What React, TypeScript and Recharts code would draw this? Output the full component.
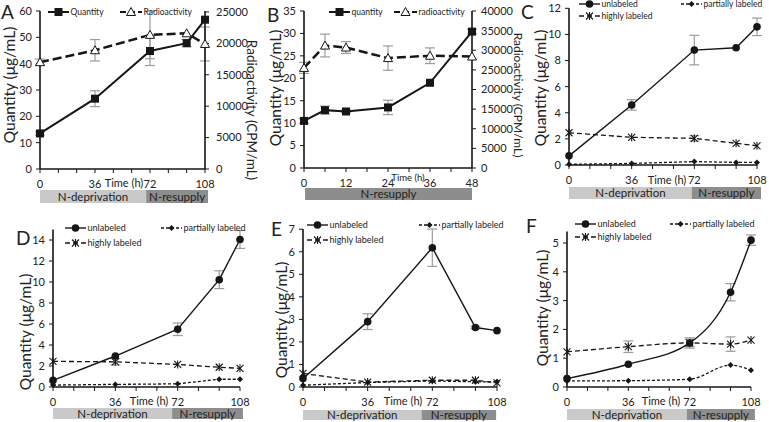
import React from 'react';
import { LineChart, Line, XAxis, YAxis, ErrorBar, ReferenceArea } from 'recharts';

const FONT = 'Lato, "Open Sans", sans-serif';
const INK = '#161616';
const TXT = '#222';
const ERR = '#9c9c9c';
const LIGHT = '#c9c9c9';
const DARK = '#8d8d8d';

// time axes (h)
const HOURS = [0, 36, 72, 96, 108];
const HOURS_B = [0, 6, 12, 24, 36, 48];
const TICKS_108 = [0, 12, 24, 36, 48, 60, 72, 84, 96, 108];
const LABELS_108 = [0, 36, 72, 108];
const TICKS_48 = [0, 6, 12, 18, 24, 30, 36, 42, 48];
const LABELS_48 = [0, 12, 24, 36, 48];

// A - quantity (ug/mL) and radioactivity (CPM/mL)
const A_QTY = [13.5, 26.7, 44.8, 47.8, 56.7];
const A_QTY_ERR = [0.6, 3.0, 5.5, 1.4, 0];
const A_RAD = [17000, 18900, 21350, 21600, 19900];
const A_RAD_ERR = [500, 1700, 3800, 0, 2700];

// B - N-resupply only
const B_QTY = [10.5, 12.9, 12.6, 13.5, 19.0, 30.4];
const B_QTY_ERR = [0.5, 0.9, 0.3, 1.6, 0, 0.5];
const B_RAD = [25500, 31200, 30700, 28000, 28600, 28400];
const B_RAD_ERR = [1400, 2900, 1500, 3100, 2000, 0];

// C
const C_UNL = [0.7, 4.6, 8.8, 8.98, 10.58];
const C_UNL_ERR = [0, 0.4, 1.13, 0, 0.67];
const C_PART = [0.05, 0.12, 0.26, 0.2, 0.2];
const C_HIGH = [2.47, 2.12, 2.04, 1.66, 1.47];
const C_HIGH_ERR = [0, 0, 0.2, 0, 0];

// D
const D_UNL = [0.63, 2.95, 5.5, 10.22, 14.05];
const D_UNL_ERR = [0, 0, 0.6, 0.85, 0.85];
const D_PART = [0.18, 0.25, 0.3, 0.74, 0.74];
const D_HIGH = [2.44, 2.4, 2.15, 1.88, 1.78];
const D_HIGH_ERR = [0, 0.3, 0, 0, 0];

// E
const E_UNL = [0.38, 2.9, 6.18, 2.64, 2.5];
const E_UNL_ERR = [0, 0.35, 0.83, 0.06, 0];
const E_PART = [0.08, 0.2, 0.27, 0.23, 0.23];
const E_HIGH = [0.6, 0.22, 0.3, 0.3, 0.18];

// F
const F_UNL = [0.29, 0.79, 1.53, 3.29, 5.1];
const F_UNL_ERR = [0, 0, 0.13, 0.3, 0.18];
const F_PART = [0.21, 0.22, 0.27, 0.76, 0.58];
const F_HIGH = [1.22, 1.4, 1.53, 1.49, 1.63];
const F_HIGH_ERR = [0, 0.2, 0.18, 0.25, 0];

const range = (a: number, b: number, s: number) => {
  const out: number[] = [];
  for (let v = a; v <= b + 1e-9; v += s) out.push(v);
  return out;
};

const toRows = (times: number[], cols: Record<string, number[]>) =>
  times.map((t, i) => {
    const r: any = { t };
    Object.keys(cols).forEach(k => { r[k] = cols[k][i]; });
    return r;
  });

type Marker = 'square' | 'triangle' | 'circle' | 'diamond' | 'star';

const drawMarker = (m: Marker, cx: number, cy: number, key?: string) => {
  if (m === 'square') return <rect key={key} x={cx - 4} y={cy - 4} width={8} height={8} fill={INK} />;
  if (m === 'triangle')
    return <path key={key} d={`M${cx},${cy - 4.5}L${cx + 4.5},${cy + 3.5}L${cx - 4.5},${cy + 3.5}Z`} fill="#fff" stroke={INK} strokeWidth={1} />;
  if (m === 'circle') return <circle key={key} cx={cx} cy={cy} r={3.8} fill={INK} />;
  if (m === 'diamond') return <path key={key} d={`M${cx},${cy - 3}L${cx + 3},${cy}L${cx},${cy + 3}L${cx - 3},${cy}Z`} fill={INK} />;
  return (
    <g key={key} stroke={INK} strokeWidth={1.1}>
      <line x1={cx - 3.5} y1={cy - 3.5} x2={cx + 3.5} y2={cy + 3.5} />
      <line x1={cx - 3.5} y1={cy + 3.5} x2={cx + 3.5} y2={cy - 3.5} />
      <line x1={cx} y1={cy - 4} x2={cx} y2={cy + 4} />
    </g>
  );
};

interface Series {
  key: string;
  err?: string;
  axis?: string;
  dash?: string;
  width: number;
  marker: Marker;
  curve: 'linear' | 'monotone';
}

interface Phase { x1: number; x2: number; label: string; fill: string }

interface PanelProps {
  box: [number, number, number, number]; // container left, top, width, height
  plot: [number, number, number, number]; // plot x0, x1, y0, y1 (page)
  data: any[];
  xMax: number;
  xTicks: number[];
  xLabels: number[];
  yMax: number;
  yTicks: number[];
  rMax?: number;
  rTicks?: number[];
  series: Series[];
  phases: Phase[];
  phaseOff: [number, number];
  time: [number, number, number]; // page centre x, y, font size
  qLabel: [number, number]; // page centre
  rLabel?: [number, number, number];
  rTickMargin?: number;
}

const Panel = (p: PanelProps) => {
  const [left, top, width, height] = p.box;
  const [x0, x1, y0, y1] = p.plot;
  const hasRight = p.rMax != null;
  const xAxisH = 30;
  const yW = x0 - left;
  const rW = hasRight ? left + width - x1 : 0;
  const margin = { top: y0 - top, right: hasRight ? 0 : left + width - x1, bottom: top + height - y1 - xAxisH, left: 0 };
  const perPx = p.yMax / (y1 - y0);
  const tick = { fill: TXT, fontSize: 11, fontFamily: FONT };
  const axisLine = { stroke: INK, strokeWidth: 1.6 };

  const rotated = (text: string, cx: number, cy: number, angle: number, size: number) => () => (
    <text
      x={cx - left}
      y={cy - top}
      transform={`rotate(${angle}, ${cx - left}, ${cy - top})`}
      textAnchor="middle"
      dominantBaseline="central"
      fontSize={size}
      fontFamily={FONT}
      fill={TXT}
    >
      {text}
    </text>
  );

  return (
    <div style={{ position: 'absolute', left, top }}>
      <LineChart width={width} height={height} data={p.data} margin={margin}>
        <XAxis
          dataKey="t"
          type="number"
          domain={[0, p.xMax]}
          ticks={p.xTicks}
          interval={0}
          tickFormatter={(v: number) => (p.xLabels.includes(v) ? String(v) : '')}
          height={xAxisH}
          tick={tick}
          tickSize={4}
          tickMargin={7}
          axisLine={axisLine}
          tickLine={{ stroke: INK }}
          label={rotated('Time (h)', p.time[0], p.time[1], 0, p.time[2])}
        />
        <YAxis
          yAxisId="left"
          width={yW}
          domain={[0, p.yMax]}
          ticks={p.yTicks}
          interval={0}
          tick={tick}
          tickSize={4}
          tickMargin={4}
          axisLine={axisLine}
          tickLine={{ stroke: INK }}
          label={rotated('Quantity (μg/mL)', p.qLabel[0], p.qLabel[1], -90, 15.5)}
        />
        {hasRight && (
          <YAxis
            yAxisId="right"
            orientation="right"
            width={rW}
            domain={[0, p.rMax as number]}
            ticks={p.rTicks}
            interval={0}
            tick={tick}
            tickSize={4}
            tickMargin={p.rTickMargin ?? 7}
            axisLine={axisLine}
            tickLine={{ stroke: INK }}
            label={rotated('Radioactivity (CPM/mL)', p.rLabel![0], p.rLabel![1], 90, p.rLabel![2])}
          />
        )}
        {p.phases.map(ph => (
          <ReferenceArea
            key={ph.label}
            yAxisId="left"
            x1={ph.x1}
            x2={ph.x2}
            y1={-p.phaseOff[0] * perPx}
            y2={-p.phaseOff[1] * perPx}
            fill={ph.fill}
            fillOpacity={1}
            stroke="none"
            ifOverflow="visible"
            label={{ value: ph.label, position: 'center', fill: TXT, fontSize: 11.5, fontFamily: FONT }}
          />
        ))}
        {p.series.map(s => (
          <Line
            key={s.key}
            yAxisId={s.axis ?? 'left'}
            dataKey={s.key}
            type={s.curve}
            stroke={INK}
            strokeWidth={s.width}
            strokeDasharray={s.dash}
            isAnimationActive={false}
            activeDot={false}
            dot={(d: any) => drawMarker(s.marker, d.cx, d.cy, `dot-${s.key}-${d.index}`)}
          >
            {s.err && <ErrorBar dataKey={s.err} width={5} stroke={ERR} strokeWidth={1.2} direction="y" isAnimationActive={false} />}
          </Line>
        ))}
      </LineChart>
    </div>
  );
};

const LegendItem = ({ x1, x2, y, dash, w, marker, text, size }: { x1: number; x2: number; y: number; dash?: string; w: number; marker: Marker; text: string; size: number }) => (
  <g>
    <line x1={x1} y1={y} x2={x2} y2={y} stroke={INK} strokeWidth={w} strokeDasharray={dash} />
    {drawMarker(marker, (x1 + x2) / 2, y)}
    <text x={x2 + 1.5} y={y + size * 0.35} fontSize={size} fontFamily={FONT} fill={TXT}>{text}</text>
  </g>
);

const Labeled = ({ y, ux, px, hy, size }: { y: number; ux: number; px: number; hy: number; size: number }) => (
  <g>
    <LegendItem x1={ux} x2={ux + 21} y={y} w={1.4} marker="circle" text="unlabeled" size={size} />
    <LegendItem x1={px} x2={px + 21} y={y} w={1.3} dash="3 2" marker="diamond" text="partially labeled" size={size} />
    <LegendItem x1={ux} x2={ux + 21} y={hy} w={1.3} dash="5 3" marker="star" text="highly labeled" size={size} />
  </g>
);

const fullSeries = (curve: 'linear' | 'monotone', unlErr: boolean, highErr: boolean): Series[] => [
  { key: 'part', width: 1.3, dash: '3 2', marker: 'diamond', curve },
  { key: 'high', err: highErr ? 'highErr' : undefined, width: 1.3, dash: '5 3', marker: 'star', curve },
  { key: 'unl', err: unlErr ? 'unlErr' : undefined, width: 1.4, marker: 'circle', curve },
];

export default function App() {
  const dataA = toRows(HOURS, { q: A_QTY, qErr: A_QTY_ERR, r: A_RAD, rErr: A_RAD_ERR });
  const dataB = toRows(HOURS_B, { q: B_QTY, qErr: B_QTY_ERR, r: B_RAD, rErr: B_RAD_ERR });
  const dataC = toRows(HOURS, { unl: C_UNL, unlErr: C_UNL_ERR, part: C_PART, high: C_HIGH, highErr: C_HIGH_ERR });
  const dataD = toRows(HOURS, { unl: D_UNL, unlErr: D_UNL_ERR, part: D_PART, high: D_HIGH, highErr: D_HIGH_ERR });
  const dataE = toRows(HOURS, { unl: E_UNL, unlErr: E_UNL_ERR, part: E_PART, high: E_HIGH });
  const dataF = toRows(HOURS, { unl: F_UNL, unlErr: F_UNL_ERR, part: F_PART, high: F_HIGH, highErr: F_HIGH_ERR });

  const qrSeries: Series[] = [
    { key: 'r', err: 'rErr', axis: 'right', width: 2.5, dash: '9 4', marker: 'triangle', curve: 'linear' },
    { key: 'q', err: 'qErr', width: 2, marker: 'square', curve: 'linear' },
  ];

  return (
    <div style={{ position: 'absolute', left: 0, top: 0, width: 769, height: 422, overflow: 'hidden', background: '#fff', fontFamily: FONT }}>
      <Panel
        box={[0, 0, 262, 210]} plot={[40, 205, 11, 169]} data={dataA}
        xMax={108} xTicks={TICKS_108} xLabels={LABELS_108}
        yMax={60} yTicks={range(0, 60, 10)} rMax={25000} rTicks={range(0, 25000, 5000)}
        series={qrSeries}
        phases={[{ x1: 0, x2: 69.5, label: 'N-deprivation', fill: LIGHT }, { x1: 69.5, x2: 110, label: 'N-resupply', fill: DARK }]}
        phaseOff={[21, 34]} time={[124, 182, 11]} qLabel={[9, 85]} rLabel={[252, 110, 13.5]}
      />
      <Panel
        box={[262, 0, 265, 210]} plot={[304, 472, 11, 168]} data={dataB}
        xMax={48} xTicks={TICKS_48} xLabels={LABELS_48}
        yMax={35} yTicks={range(0, 35, 5)} rMax={40000} rTicks={range(0, 40000, 5000)}
        series={qrSeries}
        phases={[{ x1: 0.3, x2: 48, label: 'N-resupply', fill: DARK }]}
        phaseOff={[20, 32]} time={[408, 177, 9.5]} qLabel={[275, 88]} rLabel={[518, 95, 12]} rTickMargin={5}
      />
      <Panel
        box={[515, 0, 254, 210]} plot={[569, 757, 8.3, 165]} data={dataC}
        xMax={108} xTicks={TICKS_108} xLabels={LABELS_108}
        yMax={12} yTicks={range(0, 12, 2)}
        series={fullSeries('linear', true, true)}
        phases={[{ x1: 0, x2: 70.5, label: 'N-deprivation', fill: LIGHT }, { x1: 70.5, x2: 110.3, label: 'N-resupply', fill: DARK }]}
        phaseOff={[22, 34]} time={[667, 179, 11]} qLabel={[540, 88]}
      />
      <Panel
        box={[0, 210, 255, 212]} plot={[53, 240, 229.5, 387]} data={dataD}
        xMax={108} xTicks={TICKS_108} xLabels={LABELS_108}
        yMax={15} yTicks={range(0, 14, 2)}
        series={fullSeries('linear', true, true)}
        phases={[{ x1: 0, x2: 68.8, label: 'N-deprivation', fill: LIGHT }, { x1: 68.8, x2: 109.7, label: 'N-resupply', fill: DARK }]}
        phaseOff={[21, 32]} time={[149, 400, 11]} qLabel={[25, 332]}
      />
      <Panel
        box={[255, 210, 255, 212]} plot={[303, 497, 229, 387]} data={dataE}
        xMax={108} xTicks={TICKS_108} xLabels={LABELS_108}
        yMax={7} yTicks={range(0, 7, 1)}
        series={fullSeries('linear', true, false)}
        phases={[{ x1: 0, x2: 66, label: 'N-deprivation', fill: LIGHT }, { x1: 66, x2: 107.5, label: 'N-resupply', fill: DARK }]}
        phaseOff={[23, 33]} time={[403, 400, 11]} qLabel={[281, 320]}
      />
      <Panel
        box={[510, 210, 259, 212]} plot={[567, 751, 231.5, 387]} data={dataF}
        xMax={108} xTicks={TICKS_108} xLabels={LABELS_108}
        yMax={5.4} yTicks={range(0, 5, 1)}
        series={fullSeries('monotone', true, true)}
        phases={[{ x1: 0, x2: 70.3, label: 'N-deprivation', fill: LIGHT }, { x1: 70.3, x2: 110.3, label: 'N-resupply', fill: DARK }]}
        phaseOff={[22, 33]} time={[661, 400, 11]} qLabel={[542, 308]}
      />

      {/* legends and panel letters */}
      <svg width={769} height={422} style={{ position: 'absolute', left: 0, top: 0, pointerEvents: 'none' }}>
        <LegendItem x1={48} x2={69} y={12} w={2} marker="square" text="Quantity" size={8.5} />
        <LegendItem x1={120} x2={142} y={12} w={2.2} dash="6 3" marker="triangle" text="Radioactivity" size={8.5} />
        <LegendItem x1={329} x2={350} y={12} w={2} marker="square" text="quantity" size={8.5} />
        <LegendItem x1={394} x2={417} y={12} w={2.2} dash="6 3" marker="triangle" text="radioactivity" size={8.5} />
        <Labeled y={4} ux={579} px={681} hy={16} size={8.5} />
        <Labeled y={228} ux={65} px={161} hy={243} size={9} />
        <Labeled y={225} ux={307} px={419} hy={240} size={9} />
        <Labeled y={224} ux={575} px={670} hy={237} size={9} />
        {[['A', 1, 19], ['B', 267, 22], ['C', 521, 19], ['D', 16, 245], ['E', 271, 236], ['F', 526, 233]].map(([t, x, y]) => (
          <text key={t as string} x={x as number} y={y as number} fontSize={19} fontFamily={FONT} fill={TXT}>{t}</text>
        ))}
      </svg>
    </div>
  );
}
